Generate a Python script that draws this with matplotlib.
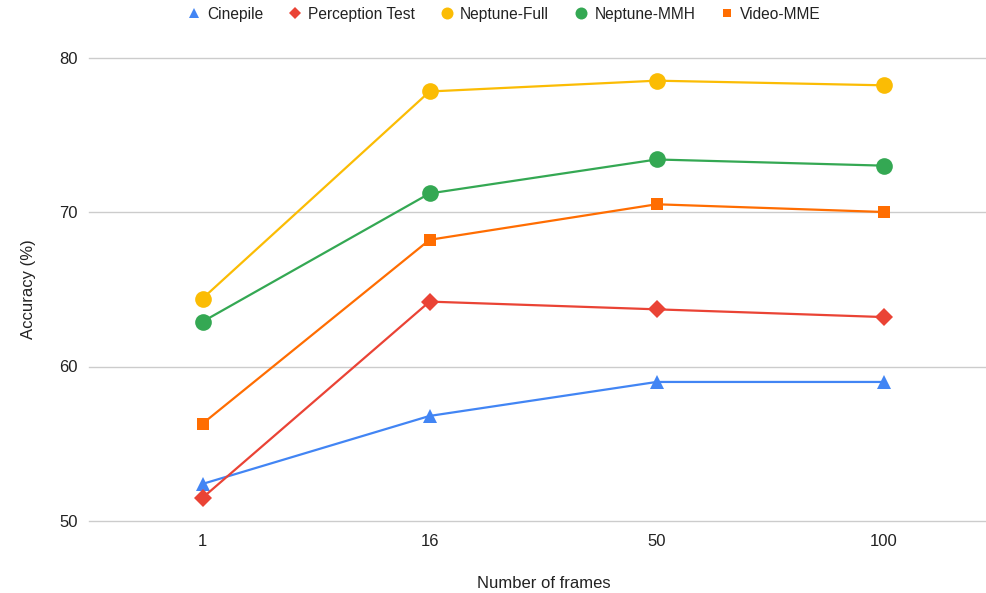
import matplotlib.pyplot as plt
from matplotlib.lines import Line2D

plt.rcParams['font.family'] = ['Liberation Sans', 'DejaVu Sans']

frames = ['1', '16', '50', '100']
cinepile = [52.4, 56.8, 59.0, 59.0]
perception = [51.5, 64.2, 63.7, 63.2]
neptune_full = [64.4, 77.8, 78.5, 78.2]
neptune_mmh = [62.9, 71.2, 73.4, 73.0]
video_mme = [56.3, 68.2, 70.5, 70.0]

series = [
    ("Cinepile", cinepile, '#4285F4', '^', 10),
    ("Perception Test", perception, '#EA4335', 'D', 9),
    ("Neptune-Full", neptune_full, '#FBBC04', 'o', 12),
    ("Neptune-MMH", neptune_mmh, '#34A853', 'o', 12),
    ("Video-MME", video_mme, '#FF6D01', 's', 8.5),
]

fig = plt.figure(figsize=(9.87, 5.93), dpi=100)
ax = fig.add_axes([89 / 987, 1 - 521 / 593, 1 - 89 / 987, (521 - 57.5) / 593])

x = list(range(len(frames)))
handles = []
for name, vals, color, marker, ms in series:
    ax.plot(x, vals, color=color, lw=1.6, marker=marker, markersize=ms,
            markeredgewidth=0, zorder=3, clip_on=False)
    handles.append(Line2D([], [], color=color, marker=marker, linestyle='none',
                          markersize=ms * 0.72, markeredgewidth=0, label=name))

ax.set_xlim(-0.5, (987 - 202) / 227.2)
ax.set_ylim(50, 80)
ax.set_yticks([50, 60, 70, 80])
ax.set_xticks(x)
ax.set_xticklabels(frames)
ax.grid(axis='y', color='#cccccc', lw=1)
for gl in ax.get_ygridlines():
    gl.set_clip_on(False)
ax.set_axisbelow(True)
for s in ax.spines.values():
    s.set_visible(False)
ax.tick_params(length=0, labelsize=12, colors='#222222', pad=9)
ax.tick_params(axis='y', pad=8)

ax.set_xlabel("Number of frames", fontsize=12, color='#222222')
ax.xaxis.set_label_coords((544 - 89) / (987 - 89), -(583 - 521) / (521 - 57.5))
ax.xaxis.label.set_va('center')
ax.set_ylabel("Accuracy (%)", fontsize=12, color='#222222', labelpad=17)

fig.legend(handles=handles, loc='upper center', ncol=5, frameon=False,
           fontsize=11.2, handletextpad=0.1, columnspacing=1.3,
           bbox_to_anchor=(0.508, 1.012), labelcolor='#222222', handlelength=1.5)

fig.savefig('out.png', dpi=100)
